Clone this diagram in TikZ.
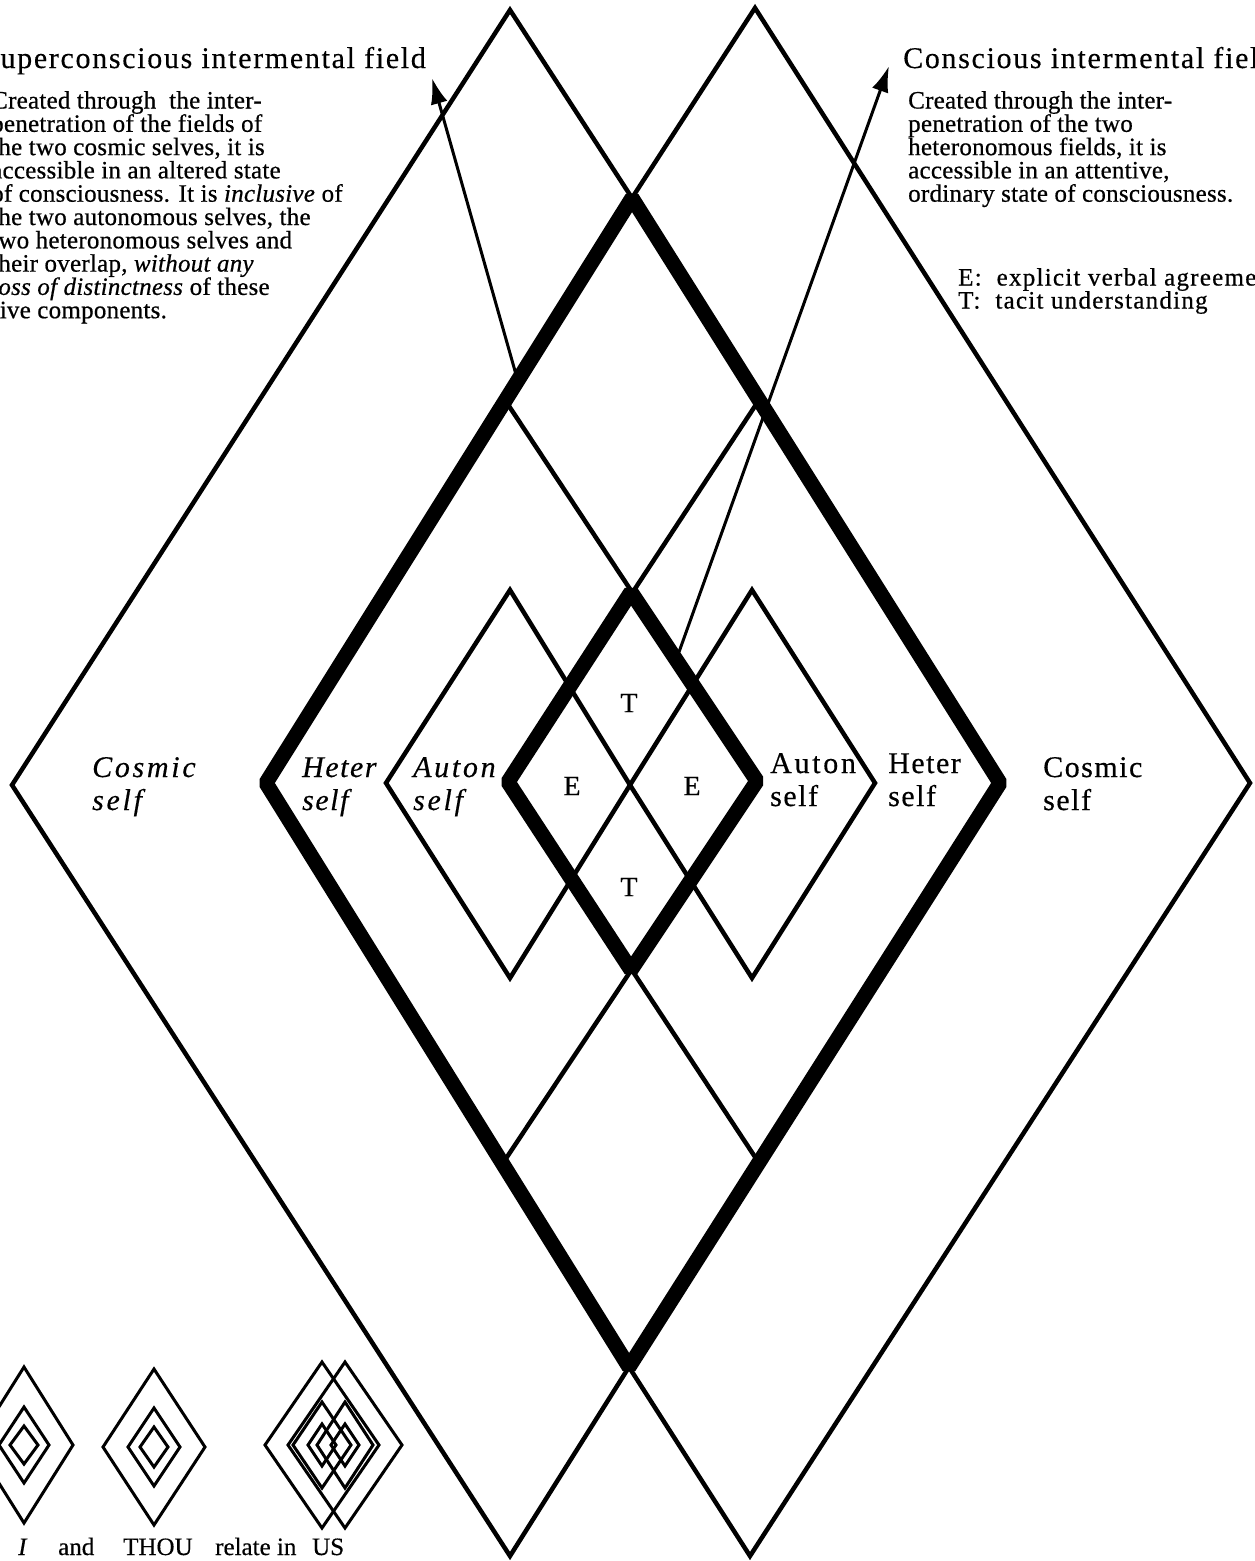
\documentclass[tikz,border=0pt]{standalone}
\usepackage{fontspec}
\setmainfont{Liberation Serif}[FakeBold=0.4]
\newfontfamily\fhdr{Liberation Serif}[LetterSpace=5.6, FakeBold=0.3]
\newfontfamily\fbody{Liberation Serif}[LetterSpace=1, FakeBold=0.6]
\newfontfamily\fleg{Liberation Serif}[LetterSpace=5, FakeBold=0.6]
\newfontfamily\flab{Liberation Serif}[LetterSpace=5, FakeBold=0.4]
\newfontfamily\fwide{Liberation Serif}[LetterSpace=9, FakeBold=0.4]
\usetikzlibrary{arrows.meta}
\begin{document}
\begin{tikzpicture}[x=1pt,y=-1pt,
  thinl/.style={line width=4.5pt, line join=miter},
  thickl/.style={line width=15pt, line join=bevel},
  arrowl/.style={line width=3pt, -{Latex[length=26pt,width=17pt]}},
  iconl/.style={line width=3pt, line join=miter},
  hdr/.style={anchor=base west, inner sep=0pt, font=\fhdr\fontsize{30}{33}\selectfont},
  bodytxt/.style={anchor=base west, inner sep=0pt, font=\fbody\fontsize{25}{25}\selectfont},
  legtxt/.style={anchor=base west, inner sep=0pt, font=\fleg\fontsize{25}{25}\selectfont},
  lab/.style={anchor=base west, inner sep=0pt, font=\flab\fontsize{30}{33}\selectfont},
  labi/.style={anchor=base west, inner sep=0pt, font=\flab\fontsize{30}{33}\selectfont\itshape},
  labw/.style={anchor=base west, inner sep=0pt, font=\fwide\fontsize{30}{33}\selectfont},
  labwi/.style={anchor=base west, inner sep=0pt, font=\fwide\fontsize{30}{33}\selectfont\itshape},
  letr/.style={inner sep=0pt, font=\fontsize{28}{28}\selectfont},
  bot/.style={anchor=base west, inner sep=0pt, font=\fontsize{25}{25}\selectfont},
  boti/.style={anchor=base west, inner sep=0pt, font=\fontsize{25}{25}\selectfont\itshape}
]
\useasboundingbox (0,0) rectangle (1255,1561);
\fill[white] (0,0) rectangle (1255,1561);

% cosmic diamonds
\coordinate (LCt) at (510,10);
\coordinate (LCl) at (12,785);
\coordinate (LCb) at (510,1556);
\coordinate (RCt) at (755,8);
\coordinate (RCr) at (1250,783);
\coordinate (RCb) at (750,1556);
% overlap of cosmic
\coordinate (Ot) at (632,198);
\coordinate (Ol) at (266,783);
\coordinate (Ob) at (629,1367);
\coordinate (Or) at (1000,783);
% heter diamonds
\coordinate (LHt) at (505,400);
\coordinate (LHr) at (757,781);
\coordinate (LHb) at (503,1163);
\coordinate (RHt) at (759,400);
\coordinate (RHl) at (508,782);
\coordinate (RHb) at (759,1163);
% overlap of heter
\coordinate (It) at (631,592);
\coordinate (Ib) at (631,970);
% auton diamonds
\coordinate (LAt) at (510,590);
\coordinate (LAl) at (386,783);
\coordinate (LAb) at (510,978);
\coordinate (Cc) at (630,785);
\coordinate (RAt) at (752,590);
\coordinate (RAr) at (875,783);
\coordinate (RAb) at (752,978);

\draw[thinl] (LCt) -- (Ot) -- (Or) -- (Ob) -- (LCb) -- (LCl) -- cycle;
\draw[thinl] (RCt) -- (RCr) -- (RCb) -- (Ob) -- (Ol) -- (Ot) -- cycle;
\draw[thinl] (LHt) -- (LHr) -- (LHb) -- (Ol) -- cycle;
\draw[thinl] (RHt) -- (Or) -- (RHb) -- (RHl) -- cycle;
\draw[thinl] (LAt) -- (Cc) -- (LAb) -- (LAl) -- cycle;
\draw[thinl] (RAt) -- (RAr) -- (RAb) -- (Cc) -- cycle;

\draw[thickl] (Ot) -- (Or) -- (Ob) -- (Ol) -- cycle;
\draw[thickl] (It) -- (LHr) -- (Ib) -- (RHl) -- cycle;

% arrows
\coordinate (SAtail) at (517,378);
\coordinate (SAhead) at (432,78);
\coordinate (CAtail) at (679,652);
\coordinate (CAhead) at (889,66);
\draw[arrowl] (SAtail) -- (SAhead);
\draw[arrowl] (CAtail) -- (CAhead);

% headers
\node[hdr] (hsup) at (-18,68) {Superconscious intermental field};
\node[hdr] (hcon) at (903,68) {Conscious intermental field};

% left text block
\foreach \txt [count=\i] in {{Created through\ \ the inter-},{penetration of the fields of},{the two cosmic selves, it is},{accessible in an altered state},{of consciousness. It is \textit{inclusive} of},{the two autonomous selves, the},{two heteronomous selves and},{their overlap, \textit{without any}},{\textit{loss of distinctness} of these},{five components.}}
  \node[bodytxt] (sl\i) at (-9,{108.5+23.3*(\i-1)}) {\txt};

% right text block
\foreach \txt [count=\i] in {{Created through the inter-},{penetration of the two},{heteronomous fields, it is},{accessible in an attentive,},{ordinary state of consciousness.}}
  \node[bodytxt] (cl\i) at (908,{108.5+23.3*(\i-1)}) {\txt};

\node[legtxt] (legE) at (958,285.5) {E:\ \ explicit verbal agreement};
\node[legtxt] (legT) at (958,308.5) {T:\ \ tacit understanding};

% labels
\node[labwi] (cosL) at (92,777) {Cosmic};
\node[labwi] (cosLs) at (92,810) {self};
\node[labi] (hetL) at (302,777) {Heter};
\node[labi] (hetLs) at (302,810) {self};
\node[labwi] (autL) at (413,777) {Auton};
\node[labwi] (autLs) at (413,810) {self};
\node[labw] (autR) at (770,773) {Auton};
\node[lab] (autRs) at (770,806) {self};
\node[lab] (hetR) at (888,773) {Heter};
\node[lab] (hetRs) at (888,806) {self};
\node[lab] (cosR) at (1043,777) {Cosmic};
\node[lab] (cosRs) at (1043,810) {self};

\node[letr] (E1) at (572,786) {E};
\node[letr] (E2) at (692,786) {E};
\node[letr] (T1) at (629,703) {T};
\node[letr] (T2) at (629,887) {T};

% small icons
\newcommand{\mydia}[4]{\draw[iconl] ({#1-#3},#2) -- (#1,{#2-#4}) -- ({#1+#3},#2) -- (#1,{#2+#4}) -- cycle;}
\mydia{24}{1445}{49}{78}
\mydia{24}{1445}{25}{38}
\mydia{24}{1445}{14}{19}
\mydia{154}{1447}{51}{78}
\mydia{154}{1447}{26}{39}
\mydia{154}{1447}{14}{20}
\mydia{322}{1445}{57}{83}
\mydia{322}{1445}{29}{43}
\mydia{322}{1445}{14}{21}
\mydia{345}{1445}{57}{83}
\mydia{345}{1445}{28}{43}
\mydia{345}{1445}{14}{21}

\node[boti] (wI) at (18,1555) {I};
\node[bot] (wand) at (58,1555) {and};
\node[bot] (wthou) at (123,1555) {THOU};
\node[bot] (wrel) at (215,1555) {relate in};
\node[bot] (wus) at (312,1555) {US};
\end{tikzpicture}
\end{document}
